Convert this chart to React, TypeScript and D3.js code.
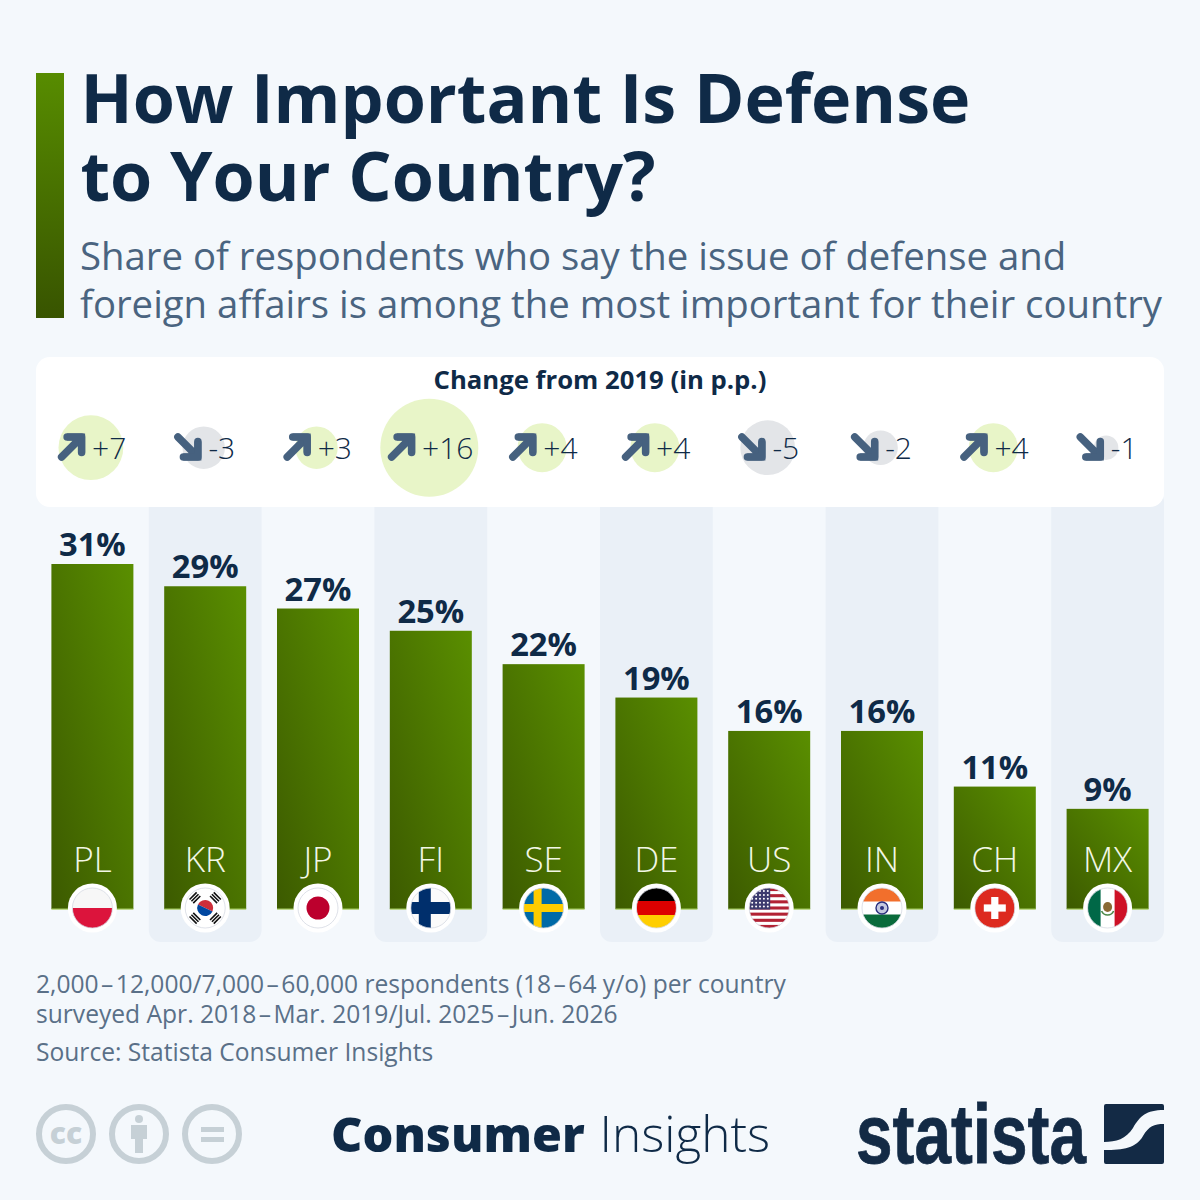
import React from 'react';
import * as d3 from 'd3';

const countries = ['PL', 'KR', 'JP', 'FI', 'SE', 'DE', 'US', 'IN', 'CH', 'MX'];
const shares = [31, 29, 27, 25, 22, 19, 16, 16, 11, 9];
const changes = [7, -3, 3, 16, 4, 4, -5, -2, 4, -1];

const titleLines = ['How Important Is Defense', 'to Your Country?'];
const subtitleLines = [
  'Share of respondents who say the issue of defense and',
  'foreign affairs is among the most important for their country',
];
const noteLines = [
  '2,000\u200a\u2013\u200a12,000/7,000\u200a\u2013\u200a60,000 respondents (18\u200a\u2013\u200a64 y/o) per country',
  'surveyed Apr. 2018\u200a\u2013\u200aMar. 2019/Jul. 2025\u200a\u2013\u200aJun. 2026',
];

const FONT = '"Open Sans", "Noto Sans", sans-serif';
const NAVY = '#0f2a47';
const SLATE = '#4a6480';

const x = d3.scaleBand<string>().domain(countries).range([36, 1164]);
const y = d3.scaleLinear().domain([0, 31]).range([909, 564]);
const bubble = d3.scaleSqrt().domain([0, 16]).range([0, 49]);
const BAR_W = 82;

const changeLabel = (d: number) => (d > 0 ? `+${d}` : `${d}`);
// rough text width, used to centre arrow + label as one group
const labelWidth = (d: number) => changeLabel(d).length * 16.8 - (d < 0 ? 7 : 0);

function Arrow({ up, left }: { up: boolean; left: number }) {
  return (
    <g transform={up ? `translate(${left},433.5)` : `translate(${left},460.5) scale(1,-1)`}>
      <path
        d="M3.5 23.5 L21 6 M9 3.5 H23.5 V19"
        fill="none"
        stroke="#46617f"
        strokeWidth={7.5}
        strokeLinecap="round"
        strokeLinejoin="round"
      />
      <path d="M9 0 H27 V19 H20 V7 H9 Z" fill="#46617f" />
    </g>
  );
}

function Flag({ code }: { code: string }) {
  const id = `clip-${code}`;
  let art: React.ReactNode = null;
  if (code === 'PL') {
    art = (
      <>
        <rect x={-20} y={-20} width={40} height={20} fill="#f7f7f7" />
        <rect x={-20} y={0} width={40} height={20} fill="#dc143c" />
      </>
    );
  } else if (code === 'KR') {
    const bars = [-45, 45, 135, 225];
    art = (
      <>
        <rect x={-20} y={-20} width={40} height={40} fill="#fff" />
        <g transform="rotate(25)">
          <path d="M-8 0 A8 8 0 0 1 8 0 Z" fill="#cd2e3a" />
          <path d="M-8 0 A8 8 0 0 0 8 0 Z" fill="#0047a0" />
        </g>
        {bars.map((a) => (
          <g key={a} transform={`rotate(${a}) translate(0,-14.5)`}>
            <rect x={-5} y={-3.4} width={10} height={1.6} fill="#111" />
            <rect x={-5} y={-0.8} width={10} height={1.6} fill="#111" />
            <rect x={-5} y={1.8} width={10} height={1.6} fill="#111" />
          </g>
        ))}
      </>
    );
  } else if (code === 'JP') {
    art = (
      <>
        <rect x={-20} y={-20} width={40} height={40} fill="#fff" />
        <circle r={11.5} fill="#bc002d" />
      </>
    );
  } else if (code === 'FI') {
    art = (
      <>
        <rect x={-20} y={-20} width={40} height={40} fill="#fbfbfb" />
        <rect x={-20} y={-6} width={40} height={12} fill="#002f6c" />
        <rect x={-12} y={-20} width={12} height={40} fill="#002f6c" />
      </>
    );
  } else if (code === 'SE') {
    art = (
      <>
        <rect x={-20} y={-20} width={40} height={40} fill="#006aa7" />
        <rect x={-20} y={-4} width={40} height={8} fill="#fecc00" />
        <rect x={-10} y={-20} width={8} height={40} fill="#fecc00" />
      </>
    );
  } else if (code === 'DE') {
    art = (
      <>
        <rect x={-20} y={-20} width={40} height={14} fill="#000" />
        <rect x={-20} y={-7} width={40} height={14} fill="#dd0000" />
        <rect x={-20} y={7} width={40} height={13} fill="#ffce00" />
      </>
    );
  } else if (code === 'US') {
    art = (
      <>
        <rect x={-20} y={-20} width={40} height={40} fill="#fff" />
        {d3.range(0, 13, 2).map((i) => (
          <rect key={i} x={-20} y={-20 + (i * 40) / 13} width={40} height={40 / 13} fill="#b22234" />
        ))}
        <rect x={-20} y={-20} width={21} height={21.5} fill="#3c3b6e" />
        {d3.range(5).map((r) =>
          d3.range(5).map((c) => (
            <circle key={`${r}-${c}`} cx={-17 + c * 3.9} cy={-17 + r * 3.9} r={1} fill="#fff" />
          ))
        )}
      </>
    );
  } else if (code === 'IN') {
    art = (
      <>
        <rect x={-20} y={-20} width={40} height={14} fill="#f26f2c" />
        <rect x={-20} y={-6.5} width={40} height={13} fill="#fff" />
        <rect x={-20} y={6.5} width={40} height={14} fill="#0a6b3b" />
        <circle r={6} fill="#c5c9e0" stroke="#2a2f7e" strokeWidth={1.4} />
        <circle r={2} fill="#2a2f7e" />
      </>
    );
  } else if (code === 'CH') {
    art = (
      <>
        <rect x={-20} y={-20} width={40} height={40} fill="#dd2a1f" />
        <rect x={-3.6} y={-11} width={7.2} height={22} fill="#fff" />
        <rect x={-11} y={-3.6} width={22} height={7.2} fill="#fff" />
      </>
    );
  } else if (code === 'MX') {
    art = (
      <>
        <rect x={-20} y={-20} width={14} height={40} fill="#006847" />
        <rect x={-7} y={-20} width={14} height={40} fill="#fff" />
        <rect x={7} y={-20} width={13} height={40} fill="#ce1126" />
        <ellipse cy={-1} rx={4.5} ry={5} fill="#8a6a35" />
        <path d="M-6 3 A6.5 6.5 0 0 0 6 3" fill="none" stroke="#4d8a4a" strokeWidth={1.6} />
      </>
    );
  }
  return (
    <g>
      <circle r={24.5} fill="#fff" />
      <clipPath id={id}>
        <circle r={20} />
      </clipPath>
      <g clipPath={`url(#${id})`}>{art}</g>
      <circle r={20} fill="none" stroke="#d6d9e2" strokeWidth={0.8} />
    </g>
  );
}

export default function App() {
  const step = x.bandwidth();
  return (
    <svg
      width={1200}
      height={1200}
      viewBox="0 0 1200 1200"
      style={{ position: 'absolute', left: 0, top: 0, fontFamily: FONT }}
    >
      <defs>
        <linearGradient id="sideBar" x1="0" y1="0" x2="0" y2="1">
          <stop offset="0" stopColor="#578c00" />
          <stop offset="1" stopColor="#385400" />
        </linearGradient>
        <linearGradient id="barFill" x1="1" y1="0" x2="0" y2="1">
          <stop offset="0" stopColor="#5a8f00" />
          <stop offset="1" stopColor="#3c5a00" />
        </linearGradient>
      </defs>
      <rect width={1200} height={1200} fill="#f4f8fc" />

      <rect x={36} y={73} width={28} height={245} fill="url(#sideBar)" />
      {titleLines.map((t, i) => (
        <text key={t} x={80.5} y={123 + i * 78} fontSize={68.2} fontWeight={700} fill={NAVY}>
          {t}
        </text>
      ))}
      {subtitleLines.map((t, i) => (
        <text key={t} x={80} y={270 + i * 48} fontSize={38.33} fill={SLATE}>
          {t}
        </text>
      ))}

      {/* alternating columns */}
      {countries.map((c, i) =>
        i % 2 === 1 ? (
          <rect key={c} x={x(c)} y={490} width={step} height={452} rx={12} fill="#eaf0f7" />
        ) : null
      )}

      {/* change panel */}
      <rect x={36} y={357} width={1128} height={150} rx={14} fill="#fff" />
      <text x={600} y={389} textAnchor="middle" fontSize={25.7} fontWeight={700} fill={NAVY}>
        Change from 2019 (in p.p.)
      </text>
      {countries.map((c, i) => {
        const d = changes[i];
        const cx = (x(c) as number) + step / 2;
        const left = cx - (27 + 8 + labelWidth(d)) / 2;
        return (
          <g key={c}>
            <circle cx={cx - 1.5} cy={447.7} r={bubble(Math.abs(d))} fill={d > 0 ? '#e8f5c8' : '#e3e5e8'} />
            <Arrow up={d > 0} left={left} />
            <text x={left + 34} y={459} fontSize={30} fontWeight={300} fill={NAVY}>
              {changeLabel(d)}
            </text>
          </g>
        );
      })}

      {/* bars */}
      {countries.map((c, i) => {
        const cx = (x(c) as number) + step / 2;
        return (
          <g key={c}>
            <rect x={cx - BAR_W / 2} y={y(shares[i])} width={BAR_W} height={y(0) - y(shares[i])} fill="url(#barFill)" />
            <rect x={cx - BAR_W / 2} y={y(0) - 0.5} width={BAR_W} height={1.2} fill="#a6cc5e" />
            <text x={cx} y={y(shares[i]) - 8} textAnchor="middle" fontSize={32.7} fontWeight={700} fill={NAVY}>
              {shares[i]}%
            </text>
            <text x={cx} y={872} textAnchor="middle" fontSize={35} fontWeight={300} fill="#f2f7e6">
              {c}
            </text>
            <g transform={`translate(${cx},908)`}>
              <Flag code={c} />
            </g>
          </g>
        );
      })}

      {/* notes */}
      {noteLines.map((t, i) => (
        <text key={t} x={36} y={993 + i * 30} fontSize={24.6} fill="#5a7088">
          {t}
        </text>
      ))}
      <text x={36} y={1061} fontSize={24.6} fill="#5a7088">
        Source: Statista Consumer Insights
      </text>

      {/* licence icons */}
      <g fill="none" stroke="#c6d0d6" strokeWidth={6}>
        <circle cx={66} cy={1134} r={27} />
        <circle cx={139} cy={1134} r={27} />
        <circle cx={212} cy={1134} r={27} />
      </g>
      <text x={66} y={1144} textAnchor="middle" fontSize={30} fontWeight={800} fill="#c6d0d6">
        cc
      </text>
      <g fill="#c6d0d6">
        <circle cx={139} cy={1119} r={4} />
        <rect x={131} y={1125} width={16} height={14} />
        <rect x={135} y={1125} width={8} height={28} />
        <rect x={201} y={1127} width={23} height={5} />
        <rect x={201} y={1137} width={23} height={5} />
      </g>

      {/* footer */}
      <text x={331} y={1152} fontSize={48.5} fontWeight={800} fill={NAVY}>
        Consumer
      </text>
      <text x={599.5} y={1152} fontSize={49.5} fontWeight={300} fill={NAVY}>
        Insights
      </text>
      <text
        x={856}
        y={1163}
        fontSize={83}
        fontWeight={700}
        fill="#132a45"
        stroke="#132a45"
        strokeWidth={0.8}
        textLength={230}
        lengthAdjust="spacingAndGlyphs"
        style={{ fontFamily: '"Liberation Sans Narrow", "Liberation Sans", sans-serif' }}
      >
        statista
      </text>
      <g transform="translate(1104,1104)" fill="#132a45">
        <path d="M2 0 H58 Q60 0 60 2 V6 C42 6 36 12 29 24 C22 35 12 38 0 38 V2 Q0 0 2 0 Z" />
        <path d="M60 20 V58 Q60 60 58 60 H2 Q0 60 0 58 V46 C20 46 32 44 39 32 C45 22 50 20 60 20 Z" />
      </g>
    </svg>
  );
}
